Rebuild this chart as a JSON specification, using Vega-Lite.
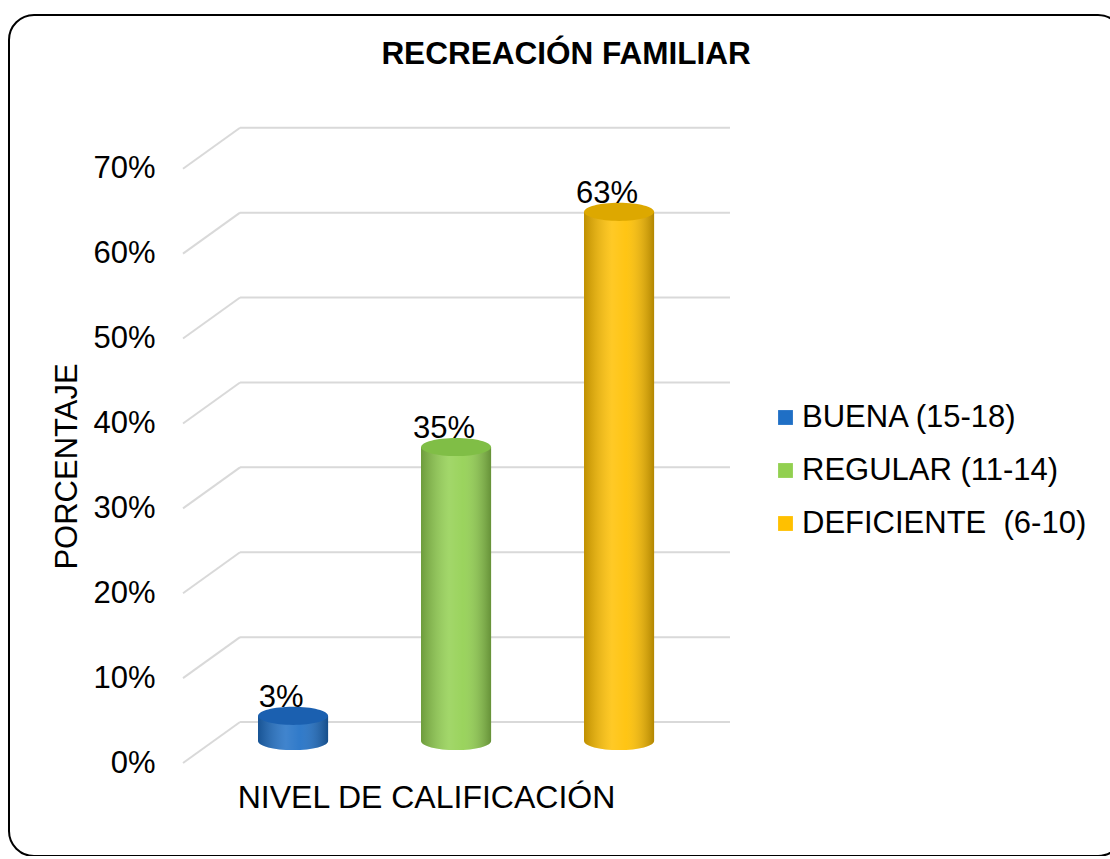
{
  "$schema": "https://vega.github.io/schema/vega-lite/v6.json",
  "width": 1114,
  "height": 841,
  "autosize": "none",
  "padding": {"left": 9, "top": 15, "right": 0, "bottom": 0},
  "background": "white",
  "config": {
    "view": {"stroke": "black", "strokeWidth": 2, "cornerRadius": 25, "fill": "white"},
    "font": "Liberation Sans"
  },
  "title": {
    "text": "RECREACIÓN FAMILIAR",
    "fontSize": 31.5,
    "font": "Liberation Sans",
    "fontWeight": "bold",
    "color": "black",
    "anchor": "middle",
    "frame": "group",
    "offset": -55
  },
  "datasets": {
    "main": [
      {"nivel": "BUENA (15-18)", "pct": 0.03},
      {"nivel": "REGULAR (11-14)", "pct": 0.35},
      {"nivel": "DEFICIENTE\u00a0 (6-10)", "pct": 0.63}
    ],
    "grid": [
      {"v": 0}, {"v": 0.1}, {"v": 0.2}, {"v": 0.3}, {"v": 0.4}, {"v": 0.5}, {"v": 0.6}, {"v": 0.7}
    ]
  },
  "layer": [
    {
      "data": {"name": "grid"},
      "layer": [
        {
          "mark": {"type": "rule", "color": "#D9D9D9", "strokeWidth": 2},
          "encoding": {
            "y": {
              "field": "v", "type": "quantitative",
              "scale": {"domain": [-0.1578, 0.8328], "nice": false, "zero": false},
              "axis": {
                "orient": "left",
                "values": [0, 0.1, 0.2, 0.3, 0.4, 0.5, 0.6, 0.7],
                "format": ".0%",
                "grid": false, "domain": false, "ticks": false, "tickSize": 0,
                "offset": -146,
                "labelPadding": 0,
                "labelOffset": 41,
                "labelFontSize": 31,
                "labelFont": "Liberation Sans",
                "labelColor": "black",
                "labelFlush": false,
                "labelOverlap": false,
                "labelBound": false,
                "title": "PORCENTAJE",
                "titleFontSize": 31,
                "titleFont": "Liberation Sans",
                "titleFontWeight": "normal",
                "titleColor": "black",
                "titleAngle": 270,
                "titleBaseline": "bottom",
                "titleAlign": "center",
                "titleX": -72,
                "titleY": 451
              }
            },
            "x": {"datum": 0.2074, "type": "quantitative", "scale": {"domain": [0, 1], "nice": false, "zero": false}, "axis": null},
            "x2": {"datum": 0.6472}
          }
        },
        {
          "mark": {"type": "rule", "color": "#D9D9D9", "strokeWidth": 2, "yOffset": 41},
          "encoding": {
            "y": {"field": "v", "type": "quantitative"},
            "y2": {"field": "v"},
            "x": {"datum": 0.1562, "type": "quantitative", "axis": null},
            "x2": {"datum": 0.2074}
          }
        }
      ]
    },
    {
      "data": {"name": "main"},
      "encoding": {
        "x": {
          "field": "nivel", "type": "nominal", "sort": null,
          "scale": {
            "domain": ["BUENA (15-18)", "REGULAR (11-14)", "DEFICIENTE\u00a0 (6-10)"],
            "range": [249, 645.1],
            "paddingInner": 0.57, "paddingOuter": 0
          },
          "axis": {
            "orient": "bottom",
            "labels": false, "ticks": false, "domain": false, "grid": false,
            "title": "NIVEL DE CALIFICACIÓN",
            "titleFontSize": 32,
            "titleFont": "Liberation Sans",
            "titleFontWeight": "normal",
            "titleColor": "black",
            "titleBaseline": "top",
            "titleAlign": "center",
            "titleX": 417,
            "titleY": -74
          }
        }
      },
      "layer": [
        {
          "mark": {"type": "point", "shape": "M -1 0 A 1 0.26 0 1 0 1 0 A 1 0.26 0 1 0 -1 0 Z", "size": 4900, "filled": true, "opacity": 1, "strokeWidth": 0},
          "encoding": {
            "y": {"datum": 0, "type": "quantitative", "scale": {"domain": [-0.1369, 0.8643], "nice": false, "zero": false}, "axis": null},
            "color": {
              "field": "nivel", "type": "nominal",
              "scale": {"domain": ["BUENA (15-18)", "REGULAR (11-14)", "DEFICIENTE\u00a0 (6-10)"], "range": ["#1F6FC5", "#92D050", "#FFC000"]},
              "legend": {
                "title": null,
                "orient": "none",
                "legendX": 761,
                "legendY": 387,
                "symbolType": "square",
                "symbolSize": 220,
                "symbolStrokeWidth": 0,
                "symbolOpacity": 1,
                "labelFontSize": 31,
                "labelFont": "Liberation Sans",
                "labelColor": "black",
                "labelLimit": 400,
                "labelOffset": 1,
                "rowPadding": 21,
                "padding": 0
              }
            }
          }
        },
        {
          "mark": {
            "type": "point", "shape": "M -1 0 A 1 0.26 0 1 0 1 0 A 1 0.26 0 1 0 -1 0 Z", "size": 4900, "filled": true, "opacity": 1, "strokeWidth": 0,
            "fill": {"gradient": "linear", "x1": 0, "y1": 0, "x2": 1, "y2": 0, "stops": [
              {"offset": 0, "color": "rgba(0,0,0,0.25)"},
              {"offset": 0.4, "color": "rgba(255,255,255,0.15)"},
              {"offset": 0.6, "color": "rgba(255,255,255,0.08)"},
              {"offset": 1, "color": "rgba(0,0,0,0.3)"}
            ]}
          },
          "encoding": {"y": {"datum": 0, "type": "quantitative"}}
        },
        {
          "mark": {"type": "bar"},
          "encoding": {
            "y": {"field": "pct", "type": "quantitative"},
            "color": {"field": "nivel", "type": "nominal"}
          }
        },
        {
          "mark": {
            "type": "bar",
            "fill": {"gradient": "linear", "x1": 0, "y1": 0, "x2": 1, "y2": 0, "stops": [
              {"offset": 0, "color": "rgba(0,0,0,0.25)"},
              {"offset": 0.4, "color": "rgba(255,255,255,0.15)"},
              {"offset": 0.6, "color": "rgba(255,255,255,0.08)"},
              {"offset": 1, "color": "rgba(0,0,0,0.3)"}
            ]}
          },
          "encoding": {"y": {"field": "pct", "type": "quantitative"}}
        },
        {
          "mark": {"type": "point", "shape": "M -1 0 A 1 0.26 0 1 0 1 0 A 1 0.26 0 1 0 -1 0 Z", "size": 4900, "filled": true, "opacity": 1, "strokeWidth": 0},
          "encoding": {
            "y": {"field": "pct", "type": "quantitative"},
            "fill": {
              "field": "nivel", "type": "nominal",
              "scale": {"domain": ["BUENA (15-18)", "REGULAR (11-14)", "DEFICIENTE\u00a0 (6-10)"], "range": ["#1B60B0", "#80BE46", "#DDA800"]},
              "legend": null
            }
          }
        },
        {
          "mark": {"type": "text", "fontSize": 31, "font": "Liberation Sans", "dx": -12, "dy": -9, "baseline": "alphabetic", "color": "black"},
          "encoding": {
            "y": {"field": "pct", "type": "quantitative"},
            "text": {"field": "pct", "type": "quantitative", "format": ".0%"}
          }
        }
      ]
    }
  ],
  "resolve": {"scale": {"x": "independent", "y": "independent"}}
}
